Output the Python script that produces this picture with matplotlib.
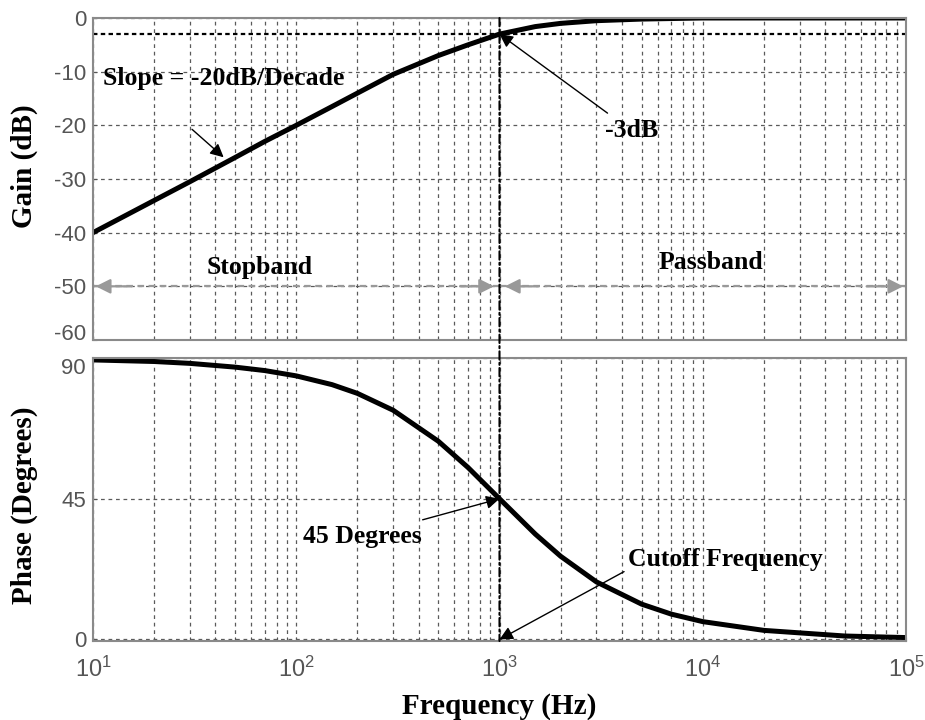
import matplotlib.pyplot as plt
from matplotlib.patches import ConnectionPatch

# values
freq = [10, 20, 30, 50, 70, 100, 150, 200, 300, 500, 700, 1000, 1500, 2000,
        3000, 5000, 7000, 10000, 20000, 50000, 100000]
gain_db = [-40, -34, -30.5, -26, -23, -20, -16.5, -14, -10.5, -7, -5, -3,
           -1.6, -1, -0.5, -0.2, -0.1, 0, 0, 0, 0]
phase_deg = [89.4, 88.9, 88.3, 87.1, 86, 84.3, 81.5, 78.7, 73.3, 63.4, 55, 45,
             33.7, 26.6, 18.4, 11.3, 8.1, 5.7, 2.9, 1.1, 0.6]
gain_ticks = [0, -10, -20, -30, -40, -50, -60]
phase_ticks = [0, 45, 90]
cutoff = 1000

serif = ['Liberation Serif', 'DejaVu Serif']
sans = ['Liberation Sans', 'DejaVu Sans']
tick_col = '#555555'
grid_col = '#5a5a5a'
spine_col = '#8a8a8a'
note_size = 18.5

fig = plt.figure(figsize=(9.25, 7.2), dpi=100)
ax1 = fig.add_axes([0.1005, 0.5278, 0.879, 0.4472])
ax2 = fig.add_axes([0.1005, 0.1097, 0.879, 0.393])

for ax in (ax1, ax2):
    ax.set_xscale('log')
    ax.set_xlim(10, 100000)
    ax.grid(True, which='major', axis='both', color=grid_col, ls=(0, (3, 3)), lw=0.9)
    ax.grid(True, which='minor', axis='x', color=grid_col, ls=(0, (3, 3)), lw=0.9)
    for s in ax.spines.values():
        s.set_color(spine_col)
        s.set_linewidth(1.5)
    ax.tick_params(which='both', colors=tick_col, direction='in', length=3)
    ax.tick_params(axis='y', pad=5)
    ax.tick_params(axis='x', pad=11)

# gain plot
ax1.plot(freq, gain_db, color='black', lw=3.6, solid_capstyle='round')
ax1.set_ylim(-60, 0)
ax1.set_yticks(gain_ticks)
ax1.set_yticklabels([str(t) for t in gain_ticks], family=sans, color=tick_col, fontsize=16)
ax1.get_yticklabels()[-1].set_va('baseline')
ax1.tick_params(axis='x', which='both', labelbottom=False)
ax1.axhline(-3, color='black', ls=(0, (2, 1.5)), lw=1.6)
ax1.set_ylabel('Gain (dB)', family=serif, fontweight='bold', fontsize=21)
ax1.yaxis.set_label_coords(-0.067, 0.54)

# stopband / passband arrows
ax1.plot([10, cutoff], [-50, -50], color='#999999', ls=(0, (3, 2)), lw=1.6)
ax1.plot([cutoff, 100000], [-50, -50], color='#999999', ls=(0, (3, 2)), lw=1.6)
arrow_gray = dict(arrowstyle='-|>', color='#999999', lw=1.6, mutation_scale=22)
for tip, tail in [(10, 16), (cutoff * 0.97, 620), (cutoff * 1.03, 1600), (100000, 62000)]:
    ax1.annotate('', xy=(tip, -50), xytext=(tail, -50), arrowprops=arrow_gray)
ax1.text(66, -46.5, 'Stopband', family=serif, fontweight='bold', fontsize=note_size,
         ha='center', va='center')
ax1.text(11000, -45.6, 'Passband', family=serif, fontweight='bold', fontsize=note_size,
         ha='center', va='center')

# gain annotations
ax1.text(11.2, -11.2, 'Slope = -20dB/Decade', family=serif, fontweight='bold',
         fontsize=note_size, ha='left', va='center')
arrow_blk = dict(arrowstyle='-|>', color='black', lw=1.0, mutation_scale=20)
ax1.annotate('', xy=(45, -26.3), xytext=(30, -20.4), arrowprops=arrow_blk)
ax1.annotate('-3dB', xy=(cutoff, -3), xytext=(3300, -21), family=serif, fontweight='bold',
             fontsize=note_size, ha='left', va='center',
             arrowprops=dict(arrowstyle='-|>', color='black', lw=1.0, mutation_scale=20,
                             shrinkA=4, shrinkB=0))

# phase plot
ax2.plot(freq, phase_deg, color='black', lw=3.6, solid_capstyle='round')
ax2.set_ylim(-0.5, 90)
ax2.set_yticks(phase_ticks)
ax2.set_yticklabels([str(t) for t in phase_ticks], family=sans, color=tick_col, fontsize=16)
ax2.get_yticklabels()[-1].set_va('top')
ax2.set_ylabel('Phase (Degrees)', family=serif, fontweight='bold', fontsize=21)
ax2.yaxis.set_label_coords(-0.067, 0.48)
ax2.set_xlabel('Frequency (Hz)', family=serif, fontweight='bold', fontsize=21, labelpad=8)
for lab in ax2.get_xticklabels():
    lab.set_family(sans)
    lab.set_fontsize(17)
    lab.set_color(tick_col)

ax2.annotate('45 Degrees', xy=(cutoff, 45), xytext=(415, 33), family=serif, fontweight='bold',
             fontsize=note_size, ha='right', va='center',
             arrowprops=dict(arrowstyle='-|>', color='black', lw=1.0, mutation_scale=20,
                             shrinkA=6, shrinkB=0))
ax2.annotate('', xy=(cutoff, 0), xytext=(4100, 21.7),
             arrowprops=dict(arrowstyle='-|>', color='black', lw=1.0, mutation_scale=20,
                             shrinkA=0, shrinkB=0))
ax2.text(4300, 25.6, 'Cutoff Frequency', family=serif, fontweight='bold', fontsize=note_size,
         ha='left', va='center')

# cutoff marker spanning both panels
con = ConnectionPatch(xyA=(cutoff, 0), coordsA=ax1.transData,
                      xyB=(cutoff, -0.5), coordsB=ax2.transData,
                      color='black', ls=(0, (4, 1.5, 1, 1.5)), lw=1.5, zorder=5)
fig.add_artist(con)

fig.savefig('out.png', dpi=100)
